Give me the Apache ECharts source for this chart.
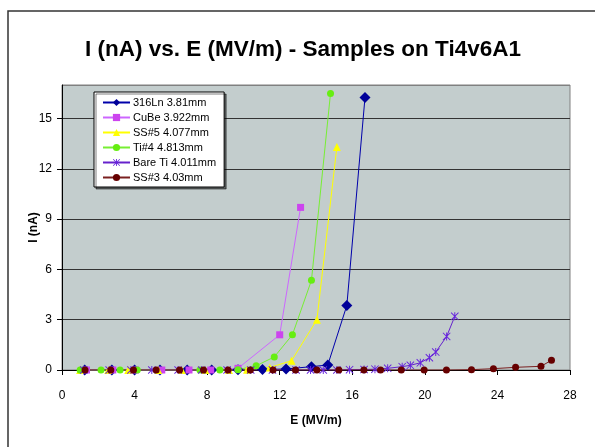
<!DOCTYPE html>
<html>
<head>
<meta charset="utf-8">
<script src="https://cdn.jsdelivr.net/npm/echarts@6/dist/echarts.min.js"></script>
<style>
  html, body { margin: 0; padding: 0; background: #fff; }
  #chart { width: 595px; height: 447px; }
</style>
</head>
<body>
<div id="chart"></div>
<script>
  // series: [E (MV/m), I (nA)]
  const ln316 = [[1.25,0],[2.75,0],[4.0,0],[5.4,0],[6.9,0],[8.25,0],[9.7,0.02],[11.05,0.03],[12.35,0.06],[13.75,0.2],[14.65,0.3],[15.7,3.85],[16.7,16.25]];
  const cube = [[1.35,0],[2.8,0],[4.05,0],[5.5,0],[7.0,0],[8.2,0],[9.7,0.1],[12.0,2.1],[13.15,9.7]];
  const ss5 = [[1.0,0],[2.55,0],[3.65,0],[5.3,0],[6.6,0],[7.9,0],[9.2,0],[10.2,0.02],[11.45,0.15],[12.65,0.55],[14.05,3.0],[15.15,13.3]];
  const ti4 = [[1.0,0],[2.15,0],[3.2,0],[4.15,0],[7.6,0],[8.7,0],[9.7,0.02],[10.7,0.25],[11.7,0.78],[12.7,2.1],[13.75,5.35],[14.8,16.5]];
  const bareTi = [[1.2,0],[2.6,0],[3.8,0],[4.95,0],[6.4,0],[7.7,0],[9.1,0],[10.4,0],[11.6,0],[12.9,0],[13.7,0],[14.4,0],[15.15,0],[15.85,0.02],[16.65,0.03],[17.25,0.05],[17.95,0.1],[18.75,0.2],[19.2,0.28],[19.75,0.43],[20.25,0.73],[20.6,1.07],[21.2,2.0],[21.65,3.2]];
  const ss3 = [[1.27,0],[2.69,0],[3.94,0],[5.19,0],[6.48,0],[7.8,0],[9.15,0],[10.38,0],[11.63,0],[12.87,0],[14.05,0],[15.26,0],[16.64,0],[17.56,0],[18.7,0],[19.96,0],[21.19,0],[22.57,0.02],[23.78,0.08],[25.0,0.16],[26.4,0.22],[26.98,0.58]];

  const names = ['316Ln 3.81mm', 'CuBe 3.922mm', 'SS#5 4.077mm', 'Ti#4 4.813mm', 'Bare Ti 4.011mm', 'SS#3 4.03mm'];

  // asterisk marker (X + vertical bar)
  const star = 'path://M4.4,0 L5.6,0 L5.6,10 L4.4,10 Z M0,0.8 L0.8,0 L10,9.2 L9.2,10 Z M9.2,0 L10,0.8 L0.8,10 L0,9.2 Z';

  const font = 'Liberation Sans, Arial, sans-serif';

  function line(name, data, color, symbol, size, lineColor) {
    return {
      name: name,
      type: 'line',
      data: data,
      symbol: symbol,
      symbolSize: size,
      showAllSymbol: true,
      lineStyle: { color: lineColor || color, width: 1 },
      itemStyle: { color: color },
      emphasis: { disabled: true }
    };
  }

  let chart = echarts.init(document.getElementById('chart'));
  chart.setOption({
    animation: false,
    backgroundColor: '#fff',
    graphic: [{
      type: 'rect',
      shape: { x: 8, y: 11, width: 620, height: 460 },
      style: { fill: 'none', stroke: '#333', lineWidth: 1.5 },
      z: -10
    }],
    title: {
      text: 'I (nA) vs. E (MV/m) - Samples on Ti4v6A1',
      left: 80,
      top: 33,
      textStyle: { fontFamily: font, fontSize: 22.5, fontWeight: 'bold', color: '#000' }
    },
    legend: {
      orient: 'vertical',
      left: 94,
      top: 92,
      data: names,
      itemWidth: 27,
      itemHeight: 9,
      itemGap: 4,
      padding: [5, 8, 4, 8],
      backgroundColor: '#fff',
      borderColor: '#000',
      borderWidth: 1,
      shadowColor: 'rgba(0,0,0,0.5)',
      shadowOffsetX: 2,
      shadowOffsetY: 2,
      textStyle: { fontFamily: font, fontSize: 11, color: '#000', padding: [0, 0, 0, -2] }
    },
    grid: {
      left: 62, right: 25, top: 85, bottom: 77,
      show: true,
      backgroundColor: '#C3CDCD',
      borderColor: '#808080',
      borderWidth: 1
    },
    xAxis: {
      type: 'value',
      min: 0, max: 28, interval: 4,
      name: 'E (MV/m)',
      nameLocation: 'middle',
      nameGap: 45,
      nameMoveOverlap: false,
      nameTextStyle: { fontFamily: font, fontSize: 12, fontWeight: 'bold', color: '#000' },
      axisLine: { lineStyle: { color: '#000', width: 1 } },
      axisTick: { show: true, length: 5, lineStyle: { color: '#000' } },
      axisLabel: { fontFamily: font, fontSize: 12, color: '#000', margin: 20 },
      splitLine: { show: false }
    },
    yAxis: {
      type: 'value',
      min: 0, max: 17, interval: 3,
      name: 'I (nA)',
      nameLocation: 'middle',
      nameGap: 22,
      nameMoveOverlap: false,
      nameTextStyle: { fontFamily: font, fontSize: 12, fontWeight: 'bold', color: '#000' },
      axisLine: { show: true, lineStyle: { color: '#000', width: 1 } },
      axisTick: { show: true, length: 5, lineStyle: { color: '#000' } },
      axisLabel: { fontFamily: font, fontSize: 12, color: '#000', margin: 10, showMaxLabel: false },
      splitLine: { show: true, lineStyle: { color: ['#333', '#333', '#333', '#333', '#333', '#333', '#808080'], width: 1 } }
    },
    series: [
      line(names[0], ln316, '#000099', 'diamond', 11, '#0000AA'),
      line(names[1], cube, '#CC44EE', 'rect', 7, '#CC66FF'),
      line(names[2], ss5, '#FFFF00', 'triangle', 8),
      line(names[3], ti4, '#66EE11', 'circle', 7, '#77EE33'),
      line(names[4], bareTi, '#6622DD', star, 8, '#6622CC'),
      line(names[5], ss3, '#660000', 'circle', 7, '#7A2020')
    ]
  });
</script>
</body>
</html>
